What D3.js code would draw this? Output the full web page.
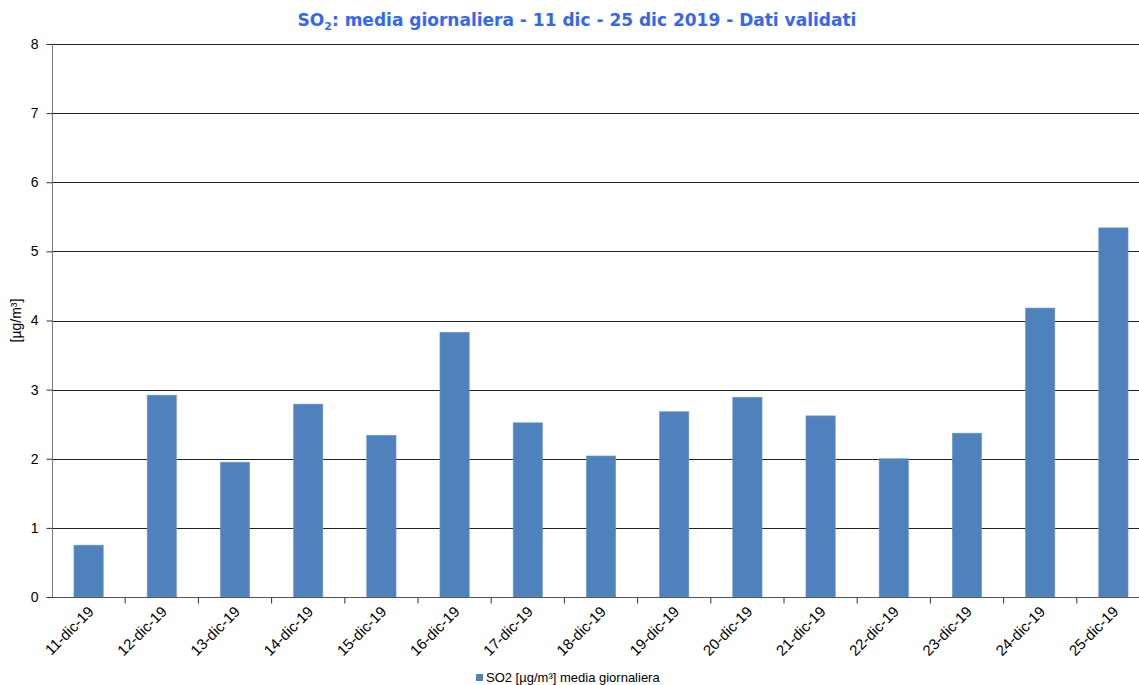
<!DOCTYPE html>
<html>
<head>
<meta charset="utf-8">
<script src="https://cdn.jsdelivr.net/npm/d3@7"></script>
<style>
  html, body { margin: 0; padding: 0; background: #fff; }
  svg { display: block; }
</style>
</head>
<body>
<svg id="chart" width="1139" height="685"></svg>
<script>
// Daily SO2 averages, 11–25 December 2019
const days = ["11-dic-19","12-dic-19","13-dic-19","14-dic-19","15-dic-19","16-dic-19","17-dic-19","18-dic-19","19-dic-19","20-dic-19","21-dic-19","22-dic-19","23-dic-19","24-dic-19","25-dic-19"];
const so2Values = [0.75, 2.92, 1.95, 2.79, 2.34, 3.83, 2.52, 2.04, 2.68, 2.89, 2.62, 2.00, 2.37, 4.18, 5.34];
const yTicks = [0, 1, 2, 3, 4, 5, 6, 7, 8];
const seriesName = "SO2 [µg/m³] media giornaliera";

const svg = d3.select("#chart");
const margin = { left: 52, top: 44, right: -11, bottom: 88 };
const W = 1139, H = 685;
const plotW = W - margin.left - margin.right;
const plotH = H - margin.top - margin.bottom;

const x = d3.scaleBand().domain(days).range([margin.left, margin.left + plotW]).paddingInner(0.6).paddingOuter(0.3);
const xTickScale = d3.scaleBand().domain(days).range([margin.left, margin.left + plotW]);
const y = d3.scaleLinear().domain([0, 8]).range([margin.top + plotH, margin.top]);

// Horizontal gridlines
svg.append("g").selectAll("line").data(yTicks.filter(d => d > 0)).join("line")
  .attr("x1", margin.left).attr("x2", W)
  .attr("y1", d => Math.round(y(d)) + 0.5).attr("y2", d => Math.round(y(d)) + 0.5)
  .attr("stroke", "#222").attr("stroke-width", 1);

// Bars
svg.append("g").selectAll("rect").data(so2Values).join("rect")
  .attr("x", (d, i) => x(days[i]))
  .attr("width", x.bandwidth())
  .attr("y", d => y(d))
  .attr("height", d => y(0) - y(d))
  .attr("fill", "#4F81BD")
  .attr("stroke", "#6d98cc").attr("stroke-width", 0.6);

// Y axis
const yAxis = svg.append("g").attr("transform", `translate(${margin.left + 0.5},0)`)
  .call(d3.axisLeft(y).tickValues(yTicks).tickSize(6).tickPadding(8).tickFormat(d3.format("d")));
yAxis.select(".domain").attr("stroke", "#777").attr("d", `M0,${y(8)}V${y(0)}`);
yAxis.selectAll(".tick line").attr("stroke", "#333");
yAxis.selectAll("text").attr("font-family", "Liberation Sans, Arial, sans-serif").attr("font-size", 14).attr("fill", "#000");

// X axis line and ticks at category boundaries
const xBase = Math.round(y(0)) + 0.5;
svg.append("line").attr("x1", margin.left).attr("x2", W).attr("y1", xBase).attr("y2", xBase).attr("stroke", "#555");
svg.append("g").selectAll("line").data(days).join("line")
  .attr("x1", d => xTickScale(d) + xTickScale.bandwidth()).attr("x2", d => xTickScale(d) + xTickScale.bandwidth())
  .attr("y1", xBase).attr("y2", xBase + 6).attr("stroke", "#333");
svg.append("g").selectAll("text").data(days).join("text")
  .attr("transform", d => `translate(${xTickScale(d) + xTickScale.bandwidth() / 2 + 6},${xBase + 15}) rotate(-45)`)
  .attr("text-anchor", "end")
  .attr("font-family", "Liberation Sans, Arial, sans-serif").attr("font-size", 15)
  .text(d => d);

// Y axis title
svg.append("text")
  .attr("transform", `translate(21,${(y(0) + y(8)) / 2}) rotate(-90)`)
  .attr("text-anchor", "middle")
  .attr("font-family", "Liberation Sans, Arial, sans-serif").attr("font-size", 14)
  .text("[µg/m³]");

// Chart title
const title = svg.append("text")
  .attr("x", 577).attr("y", 26)
  .attr("text-anchor", "middle")
  .attr("font-family", "DejaVu Sans, Verdana, sans-serif").attr("font-weight", "bold")
  .attr("font-size", 17).attr("fill", "#3366f5");
title.append("tspan").text("SO");
title.append("tspan").attr("font-size", 11).attr("dy", 4).text("2");
title.append("tspan").attr("dy", -4).text(": media giornaliera - 11 dic - 25 dic 2019 - Dati validati");

// Legend
const legend = svg.append("g").attr("transform", "translate(476,673)");
legend.append("rect").attr("width", 7).attr("height", 7).attr("y", 1).attr("fill", "#4F81BD");
legend.append("text").attr("x", 10).attr("y", 9)
  .attr("font-family", "Liberation Sans, Arial, sans-serif").attr("font-size", 13)
  .text(seriesName);
</script>
</body>
</html>
